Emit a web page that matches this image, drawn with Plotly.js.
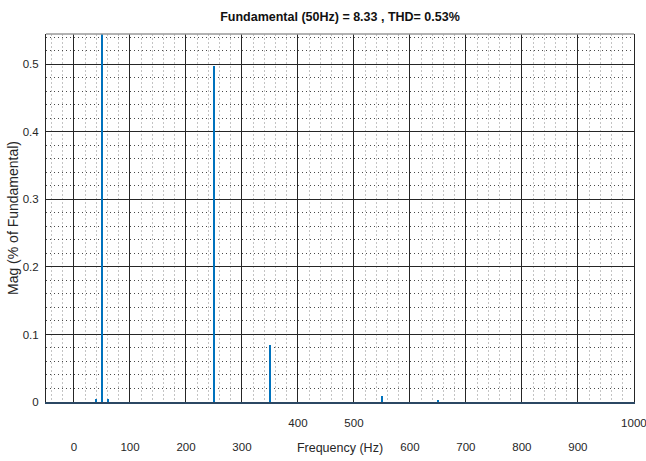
<!DOCTYPE html>
<html>
<head>
<meta charset="utf-8">
<script src="https://cdn.plot.ly/plotly-3.0.1.min.js"></script>
<style>html,body{margin:0;padding:0;background:#fff;}#chart{width:646px;height:461px;}</style>
</head>
<body>
<div id="chart"></div>
<script>
// Harmonic spectrum (Hz) and magnitude (% of fundamental)
const freqHz = [40, 50, 60, 250, 350, 550, 650];
const magPct = [0.004, 100, 0.004, 0.497, 0.085, 0.009, 0.003];

// Tick labels (two staggered rows as in the reference)
const tickValsAll = [0, 100, 200, 300, 400, 500, 600, 700, 800, 900, 1000];
const upperRowVals = [400, 500, 1000];
const lowerRowVals = [0, 100, 200, 300, 600, 700, 800, 900];
const yTickVals = [0, 0.1, 0.2, 0.3, 0.4, 0.5];
const yTickText = ['0', '0.1', '0.2', '0.3', '0.4', '0.5'];

const titleText = 'Fundamental (50Hz) = 8.33 , THD= 0.53%';
const xTitle = 'Frequency (Hz)';
const yTitle = 'Mag (% of Fundamental)';

const sans = '"Liberation Sans", Arial, sans-serif';

const upperText = tickValsAll.map(v => upperRowVals.includes(v) ? String(v) : '');

const trace = {
  type: 'bar',
  x: freqHz,
  y: magPct,
  width: 3.5,
  marker: {color: '#0072BD', line: {width: 0}},
  hoverinfo: 'x+y'
};
// invisible trace for second (lower row) x axis
const dummy = {
  type: 'scatter', x: [0], y: [0], xaxis: 'x2', yaxis: 'y',
  mode: 'markers', marker: {opacity: 0}, hoverinfo: 'skip', showlegend: false
};

const layout = {
  width: 646, height: 461,
  margin: {l: 46, r: 12, t: 34, b: 59},
  paper_bgcolor: '#ffffff',
  plot_bgcolor: '#ffffff',
  showlegend: false,
  bargap: 0,
  title: {
    text: '<b>' + titleText + '</b>',
    font: {family: sans, size: 12.5, color: '#111'},
    x: 0.5, xref: 'paper', xanchor: 'center',
    y: 1, yref: 'container', yanchor: 'top', pad: {t: 12}
  },
  xaxis: {
    range: [-50, 1000.2],
    tickmode: 'array',
    tickvals: tickValsAll,
    ticktext: upperText,
    ticks: '',
    ticklabelstandoff: 10,
    ticklabeloverflow: 'allow',
    tickfont: {family: sans, size: 11.5, color: '#262626'},
    showgrid: true,
    gridcolor: '#262626',
    gridwidth: 1,
    zeroline: false,
    showline: true,
    linecolor: '#2b4763',
    linewidth: 1.5,
    mirror: false,
    minor: {dtick: 20, tick0: 0, showgrid: true, gridcolor: '#c4c4c4', griddash: '2px,2px', gridwidth: 1, ticks: ''},
    title: {text: xTitle, font: {family: sans, size: 12.5, color: '#262626'}, standoff: 15},
    automargin: false,
    fixedrange: true
  },
  xaxis2: {
    overlaying: 'x',
    anchor: 'y',
    side: 'bottom',
    range: [-50, 1000.2],
    tickmode: 'array',
    tickvals: lowerRowVals,
    ticktext: lowerRowVals.map(String),
    ticks: '',
    ticklabelstandoff: 36,
    tickfont: {family: sans, size: 11.5, color: '#262626'},
    showgrid: false,
    zeroline: false,
    showline: false,
    automargin: false,
    fixedrange: true
  },
  yaxis: {
    range: [0, 0.545],
    tickmode: 'array',
    tickvals: yTickVals,
    ticktext: yTickText,
    ticks: '',
    ticklabelstandoff: 4,
    tickfont: {family: sans, size: 11.5, color: '#262626'},
    showgrid: true,
    gridcolor: '#262626',
    gridwidth: 1,
    zeroline: false,
    showline: true,
    linecolor: '#262626',
    linewidth: 1,
    mirror: true,
    minor: {dtick: 0.02, tick0: 0, showgrid: true, gridcolor: '#4a4a4a', griddash: '1px,3px', gridwidth: 1, ticks: ''},
    title: {text: yTitle, font: {family: sans, size: 14, color: '#262626'}, standoff: 0},
    automargin: false,
    fixedrange: true
  },
  shapes: [
    {type: 'line', xref: 'paper', yref: 'paper', x0: 0, x1: 1, y0: 1, y1: 1,
     line: {color: '#9a9a9a', width: 1.5}}
  ]
};

Plotly.newPlot('chart', [trace, dummy], layout, {displayModeBar: false, staticPlot: true});
</script>
</body>
</html>
